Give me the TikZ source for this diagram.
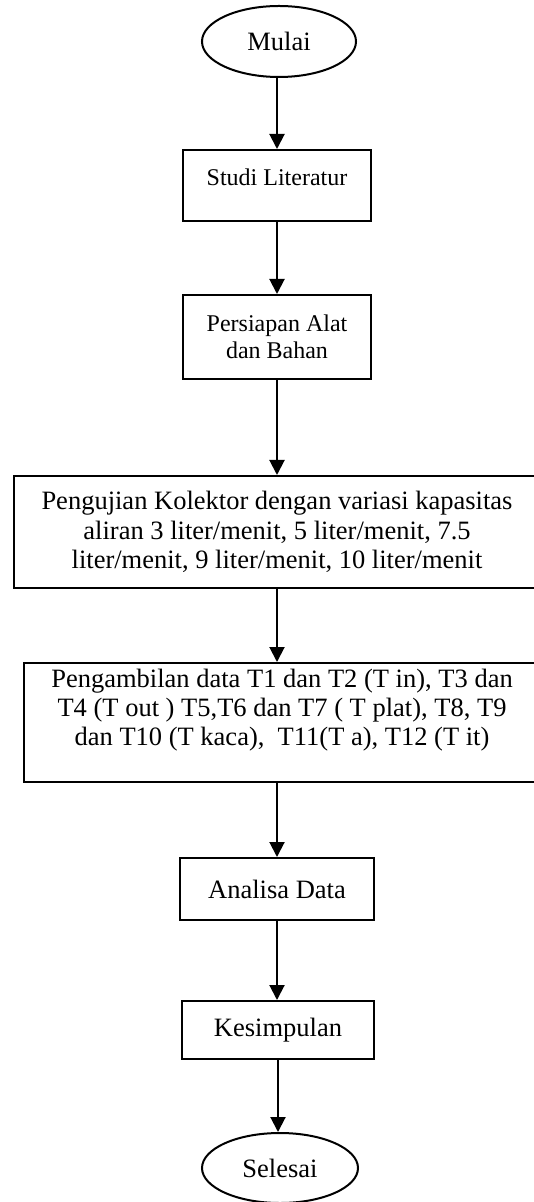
\documentclass[tikz,border=0pt]{standalone}
\usepackage{fontspec}
\setmainfont{Liberation Serif}
\usetikzlibrary{arrows.meta,shapes.geometric}
\tikzset{
  base/.style={draw=black, line width=1pt, inner sep=0pt, align=center,
    font=\fontsize{13.25}{14.6}\selectfont},
  smalltext/.style={font=\fontsize{12}{13.6}\selectfont},
  term/.style={base, ellipse},
  procbox/.style={base, rectangle},
  arr/.style={line width=1pt, -{Triangle[length=7.5pt,width=7.5pt]}}
}
\begin{document}
\begin{tikzpicture}[x=0.5pt,y=-0.5pt]
\useasboundingbox (0,0) rectangle (534,1202);
\clip (0,0) rectangle (534,1202);
\fill[white] (0,0) rectangle (534,1202);

\node[term, minimum width=77pt, minimum height=35.5pt] (mulai) at (279,41.5) {Mulai};
\node[procbox, smalltext, minimum width=94pt, minimum height=35.5pt, text depth=8.5pt] (studi) at (277,185.5) {Studi Literatur};
\node[procbox, smalltext, minimum width=94pt, minimum height=42pt] (persiapan) at (277,337) {Persiapan Alat\\dan Bahan};
\node[procbox, minimum width=263pt, minimum height=56pt] (pengujian) at (277,532) {Pengujian Kolektor dengan variasi kapasitas\\aliran 3 liter/menit, 5 liter/menit, 7.5\\liter/menit, 9 liter/menit, 10 liter/menit};
\node[procbox, minimum width=258pt, minimum height=59.5pt, text depth=15pt] (pengambilan) at (282,722.5) {Pengambilan data T1 dan T2 (T in), T3 dan\\T4 (T out ) T5,T6 dan T7 ( T plat), T8, T9\\dan T10 (T kaca),~ T11(T a), T12 (T it)};
\node[procbox, minimum width=97pt, minimum height=31pt] (analisa) at (277,889) {Analisa Data};
\node[procbox, minimum width=96pt, minimum height=29pt] (kesimpulan) at (278,1030) {Kesimpulan};
\node[term, minimum width=78pt, minimum height=35pt] (selesai) at (280,1168) {Selesai};

\draw[arr] (mulai.south -| studi.north) -- (studi.north);
\draw[arr] (studi.south) -- (persiapan.north);
\draw[arr] (persiapan.south) -- (persiapan.south |- pengujian.north);
\draw[arr] (pengujian.south) -- (pengujian.south |- pengambilan.north);
\draw[arr] (pengambilan.south -| analisa.north) -- (analisa.north);
\draw[arr] (analisa.south) -- (analisa.south |- kesimpulan.north);
\draw[arr] (kesimpulan.south) -- (kesimpulan.south |- selesai.north);
\end{tikzpicture}
\end{document}
